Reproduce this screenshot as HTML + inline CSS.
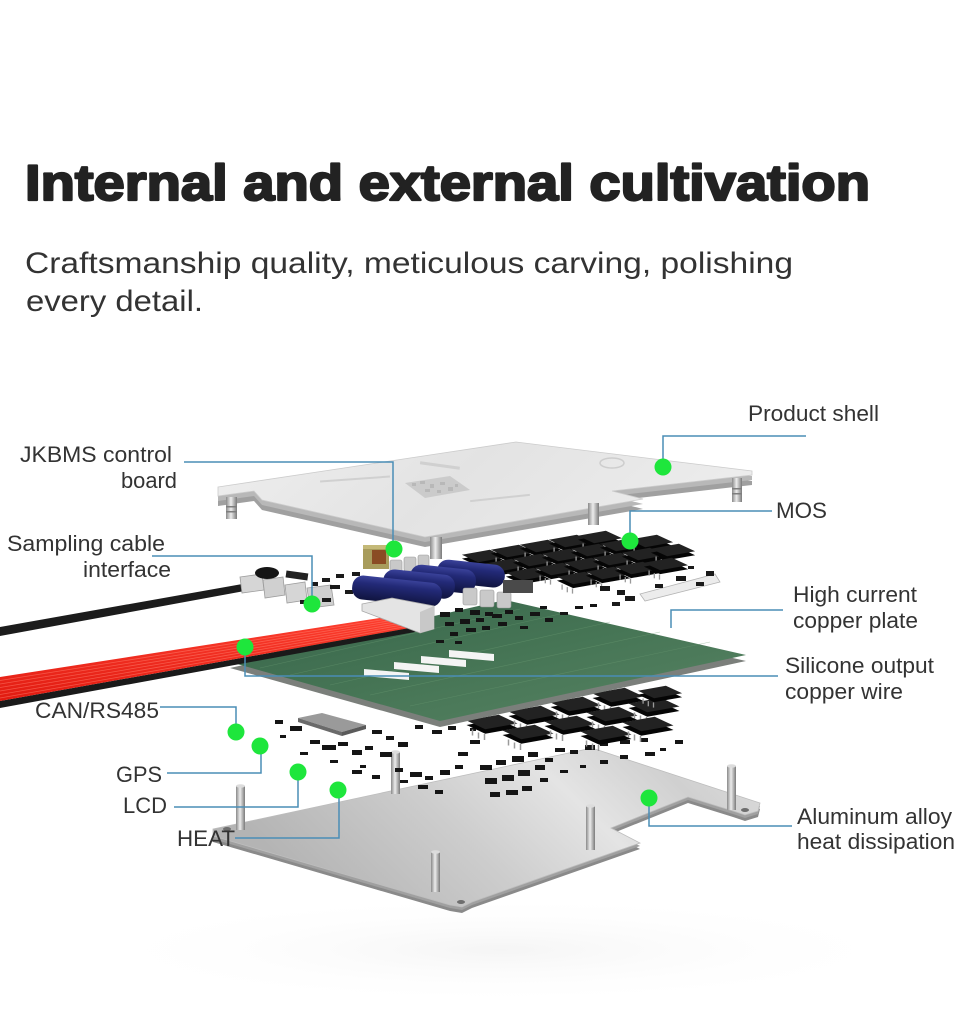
<!DOCTYPE html>
<html><head><meta charset="utf-8">
<style>
html,body{margin:0;padding:0;background:#fff;width:960px;height:1024px;overflow:hidden;}
svg{display:block;}
text{font-family:"Liberation Sans",Arial,sans-serif;}
</style></head><body>
<svg width="960" height="1024" viewBox="0 0 960 1024" xmlns="http://www.w3.org/2000/svg">
<defs>
 <linearGradient id="shellG" x1="0" y1="0" x2="1" y2="0.2">
  <stop offset="0" stop-color="#eeeeee"/><stop offset="0.5" stop-color="#e3e3e3"/><stop offset="1" stop-color="#ececec"/>
 </linearGradient>
 <linearGradient id="plateG" x1="0" y1="0.3" x2="1" y2="0">
  <stop offset="0" stop-color="#b4b4b4"/><stop offset="0.35" stop-color="#cdcdcd"/><stop offset="0.6" stop-color="#e4e4e4"/><stop offset="0.8" stop-color="#d0d0d0"/><stop offset="1" stop-color="#dedede"/>
 </linearGradient>
 <linearGradient id="pcbG" x1="0" y1="0" x2="1" y2="1">
  <stop offset="0" stop-color="#36644a"/><stop offset="0.5" stop-color="#467555"/><stop offset="1" stop-color="#588464"/>
 </linearGradient>
 <linearGradient id="postG" x1="0" x2="1" y1="0" y2="0">
  <stop offset="0" stop-color="#8a8a8a"/><stop offset="0.45" stop-color="#ececec"/><stop offset="1" stop-color="#7a7a7a"/>
 </linearGradient>
 <linearGradient id="capG" x1="0" y1="0" x2="0" y2="1">
  <stop offset="0" stop-color="#3a429a"/><stop offset="0.3" stop-color="#232a78"/><stop offset="1" stop-color="#10143f"/>
 </linearGradient>
 <linearGradient id="redG" x1="0" y1="0" x2="0" y2="1">
  <stop offset="0" stop-color="#ff4030"/><stop offset="1" stop-color="#e01a10"/>
 </linearGradient>
 <radialGradient id="floorG" cx="0.5" cy="0.5" r="0.5">
  <stop offset="0" stop-color="#f5f5f5"/><stop offset="1" stop-color="#ffffff" stop-opacity="0"/>
 </radialGradient>
 <g id="mos">
  <polygon points="-17,2 4.5,-1.8 17,4 -4.5,7.8" fill="#050505"/>
  <polygon points="-17,-1 4.5,-4.8 17,1 -4.5,4.8" fill="#222"/>
  <line x1="-13" y1="5" x2="-13" y2="9" stroke="#9a9a9a" stroke-width="1"/>
  <line x1="-9" y1="7" x2="-9" y2="11" stroke="#9a9a9a" stroke-width="1"/>
  <line x1="-5" y1="8" x2="-5" y2="12" stroke="#9a9a9a" stroke-width="1"/>
 </g>
 <path id="shellP" d="M218,487 L516,442 L752,471 L752,475 L612,491 L643,499 L425,537 L262,500 L254,491 L218,496 Z"/>
 <path id="plateP" d="M213,829 L592,748 L760,803 L758,811 L745,815 L733,811 L688,797 L611,828 L640,843 L472,902 L462,907 L450,905 L213,836 Z"/>
 <path id="pcbP" d="M230,662 L505,600 L746,655 L440,721 Z"/>
</defs>

<rect width="960" height="1024" fill="#fff"/>
<ellipse cx="500" cy="950" rx="420" ry="55" fill="url(#floorG)"/>

<!-- Title -->
<text x="25" y="200" font-size="50" font-weight="bold" fill="#222" stroke="#222" stroke-width="2.2" stroke-linejoin="round" textLength="845" lengthAdjust="spacingAndGlyphs">Internal and external cultivation</text>
<text x="25" y="273" font-size="30" fill="#333" textLength="768" lengthAdjust="spacingAndGlyphs">Craftsmanship quality, meticulous carving, polishing</text>
<text x="26" y="311" font-size="30" fill="#333" textLength="177" lengthAdjust="spacingAndGlyphs">every detail.</text>

<!-- ===== Bottom aluminum plate ===== -->
<use href="#plateP" transform="translate(0,6)" fill="#8a8a8a"/>
<use href="#plateP" transform="translate(0,3)" fill="#a0a0a0"/>
<use href="#plateP" fill="url(#plateG)" stroke="#bdbdbd" stroke-width="0.8"/>
<ellipse cx="227" cy="829" rx="4" ry="2" fill="#6e6e6e"/>
<ellipse cx="745" cy="810" rx="4" ry="2" fill="#6e6e6e"/>
<ellipse cx="461" cy="902" rx="4" ry="2" fill="#6e6e6e"/>
<g fill="url(#postG)">
 <rect x="236" y="786" width="9" height="44"/>
 <rect x="391" y="752" width="9" height="42"/>
 <rect x="431" y="852" width="9" height="40"/>
 <rect x="586" y="806" width="9" height="44"/>
 <rect x="727" y="766" width="9" height="44"/>
</g>
<g fill="#dcdcdc">
 <ellipse cx="240.5" cy="786" rx="4.5" ry="1.8"/>
 <ellipse cx="395.5" cy="752" rx="4.5" ry="1.8"/>
 <ellipse cx="435.5" cy="852" rx="4.5" ry="1.8"/>
 <ellipse cx="590.5" cy="806" rx="4.5" ry="1.8"/>
 <ellipse cx="731.5" cy="766" rx="4.5" ry="1.8"/>
</g>

<!-- ===== Lower component layer ===== -->
<polygon points="298,718 322,713 366,725 342,732" fill="#9a9a9a"/>
<polygon points="342,732 366,725 366,729 342,736" fill="#5a5a5a"/>
<polygon points="298,718 342,732 342,736 298,722" fill="#6a6a6a"/>
<g fill="#151515">
 <rect x="275" y="720" width="8" height="4"/><rect x="290" y="726" width="12" height="5"/><rect x="310" y="740" width="10" height="4"/>
 <rect x="322" y="745" width="14" height="5"/><rect x="338" y="742" width="10" height="4"/><rect x="352" y="750" width="10" height="5"/>
 <rect x="365" y="746" width="8" height="4"/><rect x="380" y="752" width="12" height="5"/><rect x="300" y="752" width="8" height="3"/>
 <rect x="280" y="735" width="6" height="3"/><rect x="410" y="705" width="10" height="5"/><rect x="425" y="710" width="8" height="4"/>
 <rect x="440" y="706" width="12" height="5"/><rect x="455" y="712" width="8" height="4"/><rect x="415" y="725" width="8" height="4"/>
 <rect x="432" y="730" width="10" height="4"/><rect x="448" y="726" width="8" height="4"/><rect x="470" y="740" width="10" height="4"/>
 <rect x="395" y="768" width="8" height="4"/><rect x="410" y="772" width="12" height="5"/><rect x="425" y="776" width="8" height="4"/>
 <rect x="440" y="770" width="10" height="5"/><rect x="455" y="765" width="8" height="4"/><rect x="400" y="780" width="8" height="3"/>
 <rect x="418" y="785" width="10" height="4"/><rect x="435" y="790" width="8" height="4"/><rect x="480" y="765" width="12" height="5"/>
 <rect x="496" y="760" width="10" height="5"/><rect x="512" y="756" width="12" height="6"/><rect x="528" y="752" width="10" height="5"/>
 <rect x="485" y="778" width="12" height="6"/><rect x="502" y="775" width="12" height="6"/><rect x="518" y="770" width="12" height="6"/>
 <rect x="535" y="765" width="10" height="5"/><rect x="490" y="792" width="10" height="5"/><rect x="506" y="790" width="12" height="5"/>
 <rect x="522" y="786" width="10" height="5"/><rect x="545" y="758" width="8" height="4"/><rect x="555" y="748" width="10" height="4"/>
 <rect x="570" y="750" width="8" height="4"/><rect x="585" y="745" width="10" height="5"/><rect x="600" y="742" width="8" height="4"/>
 <rect x="620" y="740" width="10" height="4"/><rect x="640" y="738" width="8" height="4"/><rect x="560" y="770" width="8" height="3"/>
 <rect x="580" y="765" width="6" height="3"/><rect x="620" y="755" width="8" height="4"/><rect x="645" y="752" width="10" height="4"/>
 <rect x="660" y="748" width="6" height="3"/><rect x="500" y="700" width="8" height="4"/><rect x="515" y="697" width="6" height="3"/>
 <rect x="330" y="760" width="8" height="3"/><rect x="360" y="765" width="6" height="3"/><rect x="470" y="728" width="6" height="3"/>
 <rect x="372" y="730" width="10" height="4"/><rect x="386" y="736" width="8" height="4"/><rect x="398" y="742" width="10" height="5"/>
 <rect x="352" y="770" width="10" height="4"/><rect x="372" y="775" width="8" height="4"/><rect x="458" y="752" width="10" height="4"/>
 <rect x="540" y="778" width="8" height="4"/><rect x="600" y="760" width="8" height="4"/><rect x="675" y="740" width="8" height="4"/>
</g>
<g>
 <use href="#mos" transform="translate(492,722) scale(1.5)"/>
 <use href="#mos" transform="translate(534,713) scale(1.5)"/>
 <use href="#mos" transform="translate(576,704) scale(1.5)"/>
 <use href="#mos" transform="translate(618,695) scale(1.5)"/>
 <use href="#mos" transform="translate(528,732) scale(1.5)"/>
 <use href="#mos" transform="translate(570,723) scale(1.5)"/>
 <use href="#mos" transform="translate(612,714) scale(1.5)"/>
 <use href="#mos" transform="translate(654,705) scale(1.5)"/>
 <use href="#mos" transform="translate(606,733) scale(1.5)"/>
 <use href="#mos" transform="translate(648,724) scale(1.5)"/>
 <use href="#mos" transform="translate(660,692) scale(1.3)"/>
</g>

<!-- ===== Green copper plate PCB ===== -->
<use href="#pcbP" transform="translate(0,6)" fill="#7b7f7b"/>
<use href="#pcbP" fill="url(#pcbG)"/>
<g stroke="#6a9a72" stroke-width="0.6" opacity="0.5">
 <line x1="260" y1="668" x2="520" y2="609"/><line x1="290" y1="675" x2="560" y2="614"/>
 <line x1="330" y1="685" x2="610" y2="622"/><line x1="370" y1="695" x2="660" y2="632"/>
 <line x1="410" y1="706" x2="710" y2="642"/>
</g>
<g fill="#f4f4f4">
 <polygon points="364,669 409,673 409,680 364,676"/>
 <polygon points="394,662 439,666 439,673 394,669"/>
 <polygon points="421,656 466,660 466,667 421,663"/>
 <polygon points="449,650 494,654 494,661 449,657"/>
</g>

<!-- ===== Control board layer ===== -->
<polygon points="0,627 248,583 250,590 0,636" fill="#1c1c1c"/>
<g stroke="#9d9d9d" stroke-width="0.8">
 <polygon points="240,577 262,574 264,590 242,593" fill="#d6d6d6"/>
 <polygon points="263,580 283,577 285,595 265,598" fill="#d0d0d0"/>
 <polygon points="285,585 305,582 307,600 287,603" fill="#d6d6d6"/>
 <polygon points="307,588 331,585 334,605 310,608" fill="#cfcfcf"/>
</g>
<ellipse cx="267" cy="573" rx="12" ry="6" fill="#151515"/>
<rect x="286" y="572" width="22" height="7" fill="#222" transform="rotate(8 297 575)"/>
<g fill="#1a1a1a">
 <rect x="312" y="582" width="6" height="4"/><rect x="322" y="578" width="8" height="4"/><rect x="336" y="574" width="8" height="4"/>
 <rect x="345" y="590" width="8" height="4"/><rect x="300" y="600" width="8" height="4"/><rect x="322" y="598" width="9" height="4"/>
 <rect x="330" y="585" width="10" height="4"/><rect x="352" y="572" width="8" height="4"/>
</g>
<!-- MOS chips grid (top layer) -->
<g>
 <use href="#mos" transform="translate(484,556) scale(1.3)"/>
 <use href="#mos" transform="translate(513,551) scale(1.3)"/>
 <use href="#mos" transform="translate(542,546) scale(1.3)"/>
 <use href="#mos" transform="translate(571,541) scale(1.3)"/>
 <use href="#mos" transform="translate(600,537) scale(1.3)"/>
 <use href="#mos" transform="translate(506,565) scale(1.3)"/>
 <use href="#mos" transform="translate(535,560) scale(1.3)"/>
 <use href="#mos" transform="translate(564,555) scale(1.3)"/>
 <use href="#mos" transform="translate(593,550) scale(1.3)"/>
 <use href="#mos" transform="translate(622,545) scale(1.3)"/>
 <use href="#mos" transform="translate(651,541) scale(1.3)"/>
 <use href="#mos" transform="translate(528,574) scale(1.3)"/>
 <use href="#mos" transform="translate(557,569) scale(1.3)"/>
 <use href="#mos" transform="translate(586,564) scale(1.3)"/>
 <use href="#mos" transform="translate(615,559) scale(1.3)"/>
 <use href="#mos" transform="translate(644,554) scale(1.3)"/>
 <use href="#mos" transform="translate(673,550) scale(1.3)"/>
 <use href="#mos" transform="translate(579,578) scale(1.3)"/>
 <use href="#mos" transform="translate(608,573) scale(1.3)"/>
 <use href="#mos" transform="translate(637,568) scale(1.3)"/>
 <use href="#mos" transform="translate(666,564) scale(1.3)"/>
</g>
<!-- right white strip with parts -->
<polygon points="640,594 715,574 720,582 645,601" fill="#ececec" stroke="#b4b4b4" stroke-width="0.8"/>
<g fill="#1a1a1a">
 <rect x="600" y="586" width="10" height="5"/><rect x="617" y="590" width="8" height="5"/><rect x="655" y="584" width="8" height="4"/>
 <rect x="676" y="576" width="10" height="5"/><rect x="696" y="582" width="8" height="4"/><rect x="706" y="571" width="8" height="5"/>
 <rect x="625" y="596" width="10" height="5"/><rect x="612" y="602" width="8" height="4"/><rect x="688" y="566" width="6" height="3"/>
</g>
<!-- transformer -->
<rect x="363" y="545" width="26" height="24" fill="#a89c5c"/>
<rect x="372" y="550" width="14" height="14" fill="#8a4c24"/>
<rect x="363" y="545" width="26" height="4" fill="#c4b978"/>
<!-- small grey caps -->
<g fill="#c9c9c9" stroke="#9a9a9a" stroke-width="0.6">
 <rect x="390" y="560" width="12" height="14" rx="2"/><rect x="404" y="557" width="12" height="14" rx="2"/>
 <rect x="418" y="555" width="11" height="14" rx="2"/>
</g>
<!-- blue capacitors -->
<g>
 <rect x="437" y="562" width="68" height="23" rx="11" fill="url(#capG)" transform="rotate(6 470 573)"/>
 <rect x="410" y="567" width="66" height="24" rx="11" fill="url(#capG)" transform="rotate(6 443 579)"/>
 <rect x="383" y="572" width="72" height="24" rx="11" fill="url(#capG)" transform="rotate(6 418 584)"/>
 <rect x="352" y="579" width="90" height="24" rx="11" fill="url(#capG)" transform="rotate(6 396 591)"/>
</g>
<g fill="#c9c9c9" stroke="#9a9a9a" stroke-width="0.6">
 <rect x="463" y="588" width="14" height="17" rx="2"/>
 <rect x="480" y="590" width="14" height="17" rx="2"/><rect x="497" y="592" width="14" height="16" rx="2"/>
</g>
<rect x="503" y="580" width="30" height="13" fill="#4a4a4a"/>
<!-- small components near connector -->
<g fill="#141414">
 <rect x="440" y="612" width="10" height="5"/><rect x="455" y="608" width="8" height="4"/><rect x="470" y="610" width="10" height="5"/>
 <rect x="485" y="612" width="8" height="4"/><rect x="445" y="622" width="9" height="4"/><rect x="460" y="619" width="10" height="5"/>
 <rect x="476" y="618" width="8" height="4"/><rect x="492" y="614" width="10" height="4"/><rect x="505" y="610" width="8" height="4"/>
 <rect x="450" y="632" width="8" height="4"/><rect x="466" y="628" width="10" height="4"/><rect x="482" y="626" width="8" height="4"/>
 <rect x="498" y="622" width="9" height="4"/><rect x="515" y="616" width="8" height="4"/><rect x="530" y="612" width="10" height="4"/>
 <rect x="540" y="606" width="7" height="3"/><rect x="520" y="626" width="8" height="3"/><rect x="545" y="618" width="8" height="4"/>
 <rect x="560" y="612" width="8" height="3"/><rect x="575" y="606" width="8" height="3"/><rect x="590" y="604" width="7" height="3"/>
 <rect x="436" y="640" width="8" height="3"/><rect x="455" y="641" width="7" height="3"/>
</g>
<!-- red ribbon cable -->
<polygon points="0,701 415,627 415,632 0,708" fill="#1a1a1a"/>
<polygon points="0,677 412,613 415,627 0,701" fill="url(#redG)"/>
<g stroke="#ff8070" stroke-width="0.8" opacity="0.55">
 <line x1="0" y1="680.5" x2="412" y2="615"/><line x1="0" y1="684" x2="413" y2="617"/>
 <line x1="0" y1="687.5" x2="413" y2="619"/><line x1="0" y1="691" x2="414" y2="621"/>
 <line x1="0" y1="694.5" x2="414" y2="623"/><line x1="0" y1="698" x2="415" y2="625"/>
</g>
<polygon points="362,604 392,598 434,606 434,629 420,633 362,611" fill="#e4e4e4" stroke="#a8a8a8" stroke-width="0.8"/>
<polygon points="420,612 434,606 434,629 420,633" fill="#c8c8c8"/>

<!-- ===== Top shell ===== -->
<use href="#shellP" transform="translate(0,10)" fill="#a0a0a0"/>
<use href="#shellP" transform="translate(0,5)" fill="#b8b8b8"/>
<use href="#shellP" fill="url(#shellG)" stroke="#cccccc" stroke-width="0.8"/>
<polygon points="405,483 450,476 470,490 425,498" fill="#cbcbcb"/>
<g fill="#b8b8b8">
 <rect x="412" y="483" width="4" height="3"/><rect x="420" y="481" width="5" height="3"/><rect x="430" y="484" width="4" height="4"/>
 <rect x="440" y="482" width="5" height="3"/><rect x="425" y="489" width="5" height="3"/><rect x="437" y="490" width="4" height="3"/>
 <rect x="448" y="487" width="5" height="4"/><rect x="455" y="484" width="3" height="3"/>
</g>
<g fill="#d0d0d0">
 <rect x="420" y="464" width="40" height="3" transform="rotate(8 440 465)"/>
 <rect x="320" y="478" width="70" height="2" transform="rotate(-4 355 479)"/>
 <rect x="470" y="497" width="60" height="2" transform="rotate(-6 500 498)"/>
</g>
<ellipse cx="612" cy="463" rx="12" ry="5" fill="none" stroke="#cdcdcd" stroke-width="1.5"/>
<g fill="url(#postG)">
 <rect x="226" y="497" width="11" height="22"/>
 <rect x="430" y="537" width="12" height="22"/>
 <rect x="588" y="503" width="11" height="22"/>
 <rect x="732" y="478" width="10" height="24"/>
</g>
<g fill="#7e7e7e">
 <rect x="226" y="506" width="11" height="1.5"/><rect x="226" y="511" width="11" height="1.5"/>
 <rect x="732" y="488" width="10" height="1.5"/><rect x="732" y="493" width="10" height="1.5"/>
</g>

<!-- ===== Leader lines ===== -->
<g fill="none" stroke="#4a8db6" stroke-width="1.5">
 <polyline points="806,436 663,436 663,467"/>
 <polyline points="772,511 630,511 630,541"/>
 <polyline points="783,610 671,610 671,628"/>
 <polyline points="778,676 245,676 245,647"/>
 <polyline points="184,462 393,462 393,549"/>
 <polyline points="152,556 312,556 312,604"/>
 <polyline points="160,707 236,707 236,731"/>
 <polyline points="167,773 261,773 261,746"/>
 <polyline points="174,807 298,807 298,772"/>
 <polyline points="235,838 339,838 339,790"/>
 <polyline points="649,798 649,826 792,826"/>
</g>
<g fill="#1ee63c">
 <circle cx="663" cy="467" r="8.5"/><circle cx="630" cy="541" r="8.5"/>
 <circle cx="394" cy="549" r="8.5"/><circle cx="312" cy="604" r="8.5"/>
 <circle cx="245" cy="647" r="8.5"/><circle cx="236" cy="732" r="8.5"/>
 <circle cx="260" cy="746" r="8.5"/><circle cx="298" cy="772" r="8.5"/>
 <circle cx="338" cy="790" r="8.5"/><circle cx="649" cy="798" r="8.5"/>
</g>

<!-- ===== Labels ===== -->
<g font-size="22" fill="#333">
 <text x="748" y="421" textLength="131" lengthAdjust="spacingAndGlyphs">Product shell</text>
 <text x="776" y="518" textLength="51" lengthAdjust="spacingAndGlyphs">MOS</text>
 <text x="793" y="602" textLength="124" lengthAdjust="spacingAndGlyphs">High current</text>
 <text x="793" y="628" textLength="125" lengthAdjust="spacingAndGlyphs">copper plate</text>
 <text x="785" y="673" textLength="149" lengthAdjust="spacingAndGlyphs">Silicone output</text>
 <text x="785" y="699" textLength="118" lengthAdjust="spacingAndGlyphs">copper wire</text>
 <text x="20" y="462" textLength="152" lengthAdjust="spacingAndGlyphs">JKBMS control</text>
 <text x="121" y="488" textLength="56" lengthAdjust="spacingAndGlyphs">board</text>
 <text x="7" y="551" textLength="158" lengthAdjust="spacingAndGlyphs">Sampling cable</text>
 <text x="83" y="577" textLength="88" lengthAdjust="spacingAndGlyphs">interface</text>
 <text x="35" y="718" textLength="124" lengthAdjust="spacingAndGlyphs">CAN/RS485</text>
 <text x="116" y="782" textLength="46" lengthAdjust="spacingAndGlyphs">GPS</text>
 <text x="123" y="813" textLength="44" lengthAdjust="spacingAndGlyphs">LCD</text>
 <text x="177" y="846" textLength="58" lengthAdjust="spacingAndGlyphs">HEAT</text>
 <text x="797" y="824" textLength="155" lengthAdjust="spacingAndGlyphs">Aluminum alloy</text>
 <text x="797" y="849" textLength="158" lengthAdjust="spacingAndGlyphs">heat dissipation</text>
</g>
</svg>
</body></html>
